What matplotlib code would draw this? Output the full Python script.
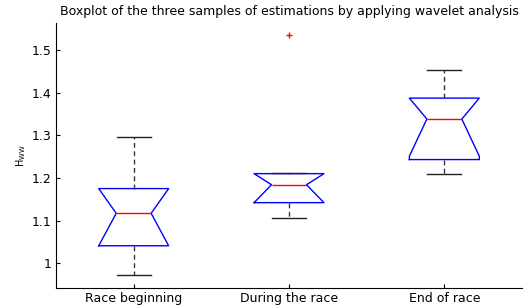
import matplotlib
matplotlib.use("Agg")
import matplotlib.pyplot as plt

# valores
labels = ["Race beginning", "During the race", "End of race"]
q1 = [1.041, 1.142, 1.243]
med = [1.117, 1.184, 1.338]
q3 = [1.175, 1.210, 1.387]
whislo = [0.972, 1.106, 1.208]
whishi = [1.296, 1.212, 1.452]
notch_lo = [1.041, 1.142, 1.251]
notch_hi = [1.175, 1.210, 1.387]
outliers = [[], [1.535], []]

plt.rcParams["font.family"] = ["DejaVu Sans"]

stats = []
for i in range(len(labels)):
    stats.append(dict(label=labels[i], q1=q1[i], med=med[i], q3=q3[i],
                      whislo=whislo[i], whishi=whishi[i],
                      cilo=notch_lo[i], cihi=notch_hi[i], fliers=outliers[i]))

fig = plt.figure(figsize=(5.26, 3.07), dpi=100)
ax = fig.add_axes([0.1065, 0.0619, 0.8859, 0.8631])

ax.bxp(stats, positions=[1, 2, 3], widths=0.45, capwidths=0.22,
       shownotches=True, showfliers=True,
       boxprops=dict(color="#0000ff", linewidth=1.0),
       medianprops=dict(color="#ff0000", linewidth=1.0),
       whiskerprops=dict(color="#333333", linewidth=1.0, linestyle=(0, (3.5, 2.5))),
       capprops=dict(color="#222222", linewidth=1.0),
       flierprops=dict(marker="+", markeredgecolor="#ff0000", markersize=5,
                       markeredgewidth=1.0, linestyle="none"))

ax.set_xlim(0.5, 3.5)
ax.set_ylim(0.942, 1.563)
ax.set_yticks([1, 1.1, 1.2, 1.3, 1.4, 1.5])
ax.set_yticklabels(["1", "1.1", "1.2", "1.3", "1.4", "1.5"])
ax.spines["top"].set_visible(False)
ax.spines["right"].set_visible(False)
ax.tick_params(direction="in", length=3, labelsize=9, width=0.8, pad=3)
ax.set_ylabel(r"H$_{\mathrm{WW}}$", fontsize=7, labelpad=3)
ax.set_title("Boxplot of the three samples of estimations by applying wavelet analysis",
             fontsize=9, pad=6)

fig.savefig("out.png", dpi=100)
